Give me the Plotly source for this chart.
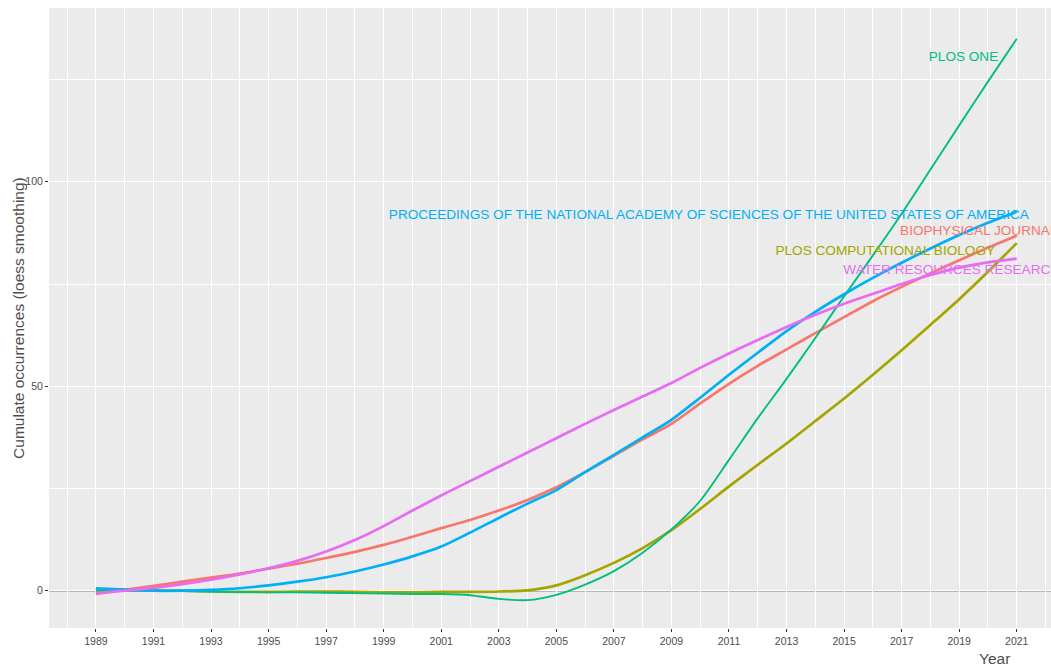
import plotly.graph_objects as go

years = list(range(1989, 2022))

journals = [
    "BIOPHYSICAL JOURNAL",
    "PLOS COMPUTATIONAL BIOLOGY",
    "PLOS ONE",
    "PROCEEDINGS OF THE NATIONAL ACADEMY OF SCIENCES OF THE UNITED STATES OF AMERICA",
    "WATER RESOURCES RESEARCH",
]

biophysical = [-0.8, 0.2, 1.2, 2.2, 3.2, 4.2, 5.4, 6.6, 8.0, 9.5, 11.2, 13.2, 15.3, 17.3, 19.6, 22.2,
               25.3, 29.0, 33.0, 37.0, 40.8, 45.8, 50.6, 55.0, 59.0, 63.0, 66.9, 70.8, 74.3, 77.6,
               80.8, 83.9, 86.8]
plos_comp_bio = [0.3, 0.3, 0.1, 0.0, -0.2, -0.3, -0.3, -0.2, -0.2, -0.3, -0.4, -0.4, -0.3, -0.3,
                 -0.2, 0.1, 1.3, 3.8, 6.8, 10.4, 14.8, 20.0, 25.5, 30.8, 36.0, 41.5, 47.0, 52.8,
                 58.8, 65.0, 71.3, 78.0, 85.0]
plos_one = [0.0, 0.0, -0.1, -0.1, -0.2, -0.3, -0.4, -0.4, -0.5, -0.6, -0.7, -0.8, -0.8, -1.1,
            -2.0, -2.3, -1.0, 1.5, 4.8, 9.3, 15.0, 22.0, 32.0, 42.2, 51.8, 61.8, 72.0, 82.0,
            92.2, 103.0, 113.8, 124.5, 135.0]
pnas = [0.6, 0.3, 0.0, 0.0, 0.2, 0.6, 1.3, 2.2, 3.3, 4.7, 6.4, 8.4, 10.8, 14.2, 17.8, 21.3,
        24.6, 29.0, 33.2, 37.5, 41.8, 47.2, 52.8, 58.2, 63.5, 68.2, 72.5, 76.5, 80.2, 83.7,
        87.0, 90.0, 92.7]
water_res = [-0.6, 0.0, 0.7, 1.6, 2.7, 4.0, 5.5, 7.3, 9.6, 12.4, 15.8, 19.6, 23.3, 26.8, 30.3,
             33.8, 37.3, 40.8, 44.2, 47.5, 50.8, 54.5, 58.0, 61.3, 64.5, 67.5, 70.2, 72.6, 75.0,
             77.2, 79.0, 80.3, 81.2]

series = [biophysical, plos_comp_bio, plos_one, pnas, water_res]
colors = ["#F8766D", "#A3A500", "#00BF7D", "#00B0F6", "#E76BF3"]
widths = [2.7, 2.7, 1.9, 2.7, 2.7]

# label positions (year, value) for each journal name
label_x = [2019.68, 2016.43, 2019.15, 2010.30, 2018.74]
label_y = [87.7, 83.0, 130.4, 91.7, 78.2]

x_ticks = list(range(1989, 2022, 2))
x_minor = list(range(1988, 2023, 2))
y_ticks = [0, 50, 100]
y_minor = [25, 75, 125]

fig = go.Figure()

for name, vals, col, w in zip(journals, series, colors, widths):
    fig.add_trace(go.Scatter(
        x=years, y=vals, mode="lines", name=name,
        line=dict(color=col, width=w, shape="spline", smoothing=0.8),
        showlegend=False, hoverinfo="x+y+name",
    ))

for name, lx, ly, col in zip(journals, label_x, label_y, colors):
    fig.add_trace(go.Scatter(
        x=[lx], y=[ly], mode="text", text=[name],
        textposition="middle center",
        textfont=dict(family="Liberation Sans, Arial, sans-serif", size=13.6, color=col),
        showlegend=False, cliponaxis=True, hoverinfo="skip",
    ))

fig.add_shape(type="line", xref="paper", yref="y", x0=0, x1=1, y0=0, y1=0,
              line=dict(color="#7F7F7F", width=1.5), layer="below")

fig.update_layout(
    width=1051, height=667,
    margin=dict(l=49, r=0, t=8, b=39),
    paper_bgcolor="white",
    plot_bgcolor="#EBEBEB",
    font=dict(family="Liberation Sans, Arial, sans-serif", color="#4D4D4D"),
    xaxis=dict(
        range=[1987.37, 2022.19],
        tickmode="array", tickvals=x_ticks, ticktext=[str(v) for v in x_ticks],
        showgrid=True, gridcolor="white", gridwidth=1.3,
        minor=dict(tickmode="array", tickvals=x_minor, showgrid=True,
                   gridcolor="white", gridwidth=1.2, ticklen=0),
        ticks="outside", ticklen=3, tickcolor="#333333", tickwidth=1,
        tickfont=dict(size=10.5, color="#4D4D4D"),
        zeroline=False, showline=False,
    ),
    yaxis=dict(
        range=[-9.12, 142.5],
        tickmode="array", tickvals=y_ticks, ticktext=[str(v) for v in y_ticks],
        showgrid=True, gridcolor="white", gridwidth=1.3,
        minor=dict(tickmode="array", tickvals=y_minor, showgrid=True,
                   gridcolor="white", gridwidth=1.2, ticklen=0),
        ticks="outside", ticklen=3, tickcolor="#333333", tickwidth=1,
        tickfont=dict(size=10.5, color="#4D4D4D"),
        zeroline=False, showline=False,
    ),
    annotations=[
        dict(text="Cumulate occurrences (loess smoothing)", xref="paper", yref="paper",
             x=-0.031, y=0.5, textangle=-90, showarrow=False,
             xanchor="center", yanchor="middle",
             font=dict(size=15.5, color="#4D4D4D")),
        dict(text="Year", xref="paper", yref="paper",
             x=0.944, y=-0.049, showarrow=False,
             xanchor="center", yanchor="middle",
             font=dict(size=15.5, color="#4D4D4D")),
    ],
)

fig.write_html("out.html")
